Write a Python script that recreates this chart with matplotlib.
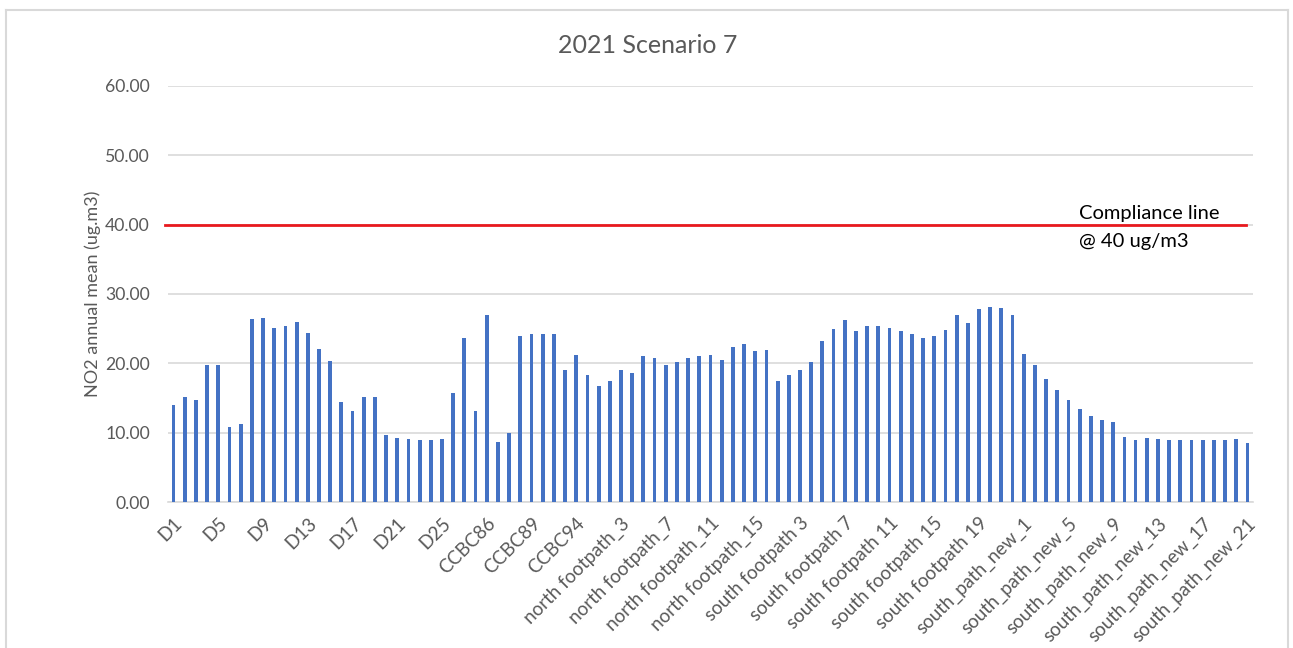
import matplotlib
matplotlib.use("Agg")
import matplotlib.pyplot as plt
from matplotlib.lines import Line2D

# Monitoring locations (97 receptors)
categories = (
    [f"D{i}" for i in range(1, 29)]
    + ["CCBC86", "CCBC87", "CCBC88", "CCBC88A", "CCBC89", "CCBC90", "CCBC91",
       "CCBC92", "CCBC94", "CCBC95"]
    + [f"north footpath_{i}" for i in range(1, 17)]
    + [f"south footpath {i}" for i in range(1, 23)]
    + [f"south_path_new_{i}" for i in range(1, 22)]
)

# Annual mean NO2 concentration at each location (ug/m3)
no2_values = [
    14.0, 15.2, 14.7, 19.7, 19.7, 10.8, 11.2, 26.4, 26.6, 25.1,
    25.4, 26.0, 24.4, 22.0, 20.3, 14.4, 13.1, 15.1, 15.2, 9.6,
    9.2, 9.1, 8.9, 8.9, 9.1, 15.7, 23.6, 13.1, 27.0, 8.6,
    9.9, 24.0, 24.2, 24.2, 24.2, 19.0, 21.2, 18.3, 16.8, 17.5,
    19.0, 18.6, 21.0, 20.8, 19.8, 20.2, 20.8, 21.1, 21.2, 20.5,
    22.4, 22.8, 21.8, 21.9, 17.4, 18.3, 19.1, 20.2, 23.2, 25.0,
    26.2, 24.7, 25.4, 25.4, 25.1, 24.6, 24.2, 23.7, 24.0, 24.8,
    27.0, 25.8, 27.8, 28.1, 28.0, 27.0, 21.3, 19.8, 17.8, 16.1,
    14.7, 13.4, 12.4, 11.8, 11.6, 9.4, 9.0, 9.2, 9.1, 9.0,
    9.0, 9.0, 9.0, 9.0, 9.0, 9.1, 8.5,
]

compliance_limit = 40.0
y_ticks = [0, 10, 20, 30, 40, 50, 60]
label_step = 4

plt.rcParams["font.family"] = ["Lato", "DejaVu Sans"]
grey_text = "#595959"
grid_grey = "#D9D9D9"

fig = plt.figure(figsize=(12.93, 6.48), dpi=100)
ax = fig.add_axes([0.1299, 0.2253, 0.8392, 0.6420])

x = list(range(len(categories)))
ax.bar(x, no2_values, width=0.34, color="#4472C4", zorder=3)

# Limit value line
ax.plot([-0.75, len(categories) - 1.1], [compliance_limit, compliance_limit],
        color="#E8191E", linewidth=2, zorder=4, clip_on=False)
fig.text(0.8345, 0.670, "Compliance line", fontsize=14.5, color="black",
         ha="left", va="center")
fig.text(0.8345, 0.628, "@ 40 ug/m3", fontsize=14.5, color="black",
         ha="left", va="center")

ax.set_xlim(-0.5, len(categories) - 0.5)
ax.set_ylim(0, 60)
ax.set_yticks(y_ticks)
ax.set_yticklabels([f"{v:.2f}" for v in y_ticks], fontsize=12.7, color=grey_text)
ax.yaxis.grid(True, color=grid_grey, linewidth=1.2, zorder=0)
ax.set_axisbelow(True)

ax.set_xticks(x[::label_step])
ax.set_xticklabels(categories[::label_step], rotation=45, ha="right",
                   va="top", rotation_mode="anchor", fontsize=13.5,
                   color=grey_text)
ax.tick_params(axis="both", length=0)
ax.tick_params(axis="x", pad=9)
ax.tick_params(axis="y", pad=13)

for side in ("top", "right", "left"):
    ax.spines[side].set_visible(False)
ax.spines["bottom"].set_color(grid_grey)
ax.spines["bottom"].set_linewidth(1.2)

ax.set_ylabel("NO2 annual mean (ug.m3)", fontsize=13, color=grey_text,
              labelpad=3)
fig.text(0.501, 0.930, "2021 Scenario 7", fontsize=18, color=grey_text,
         ha="center", va="center")

# Chart-area frame
frame = dict(color=grid_grey, linewidth=1.5, transform=fig.transFigure)
L, R, T = 5.5 / 1293, 1288 / 1293, 1 - 10 / 648
fig.add_artist(Line2D([L, R], [T, T], **frame))
fig.add_artist(Line2D([L, L], [0, T], **frame))
fig.add_artist(Line2D([R, R], [0, T], **frame))

fig.savefig("out.png", dpi=100, facecolor="white")
